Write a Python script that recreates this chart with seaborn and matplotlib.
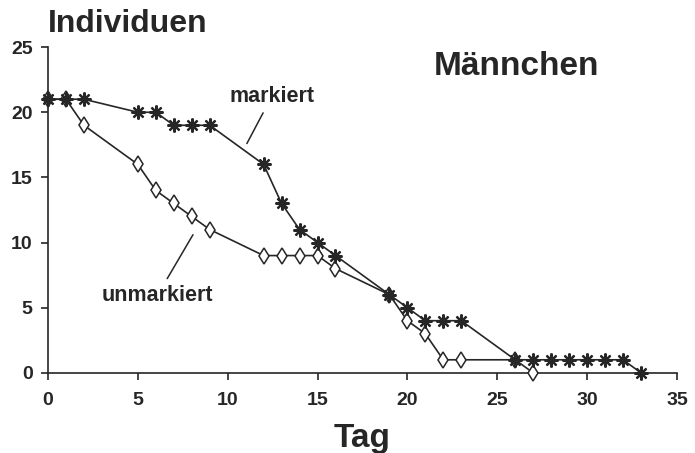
import numpy as np
import pandas as pd
import seaborn as sns
import matplotlib.pyplot as plt

# --- data ---
tag_mark = [0, 1, 2, 5, 6, 7, 8, 9, 12, 13, 14, 15, 16, 19, 20, 21, 22, 23,
            26, 27, 28, 29, 30, 31, 32, 33]
n_mark = [21, 21, 21, 20, 20, 19, 19, 19, 16, 13, 11, 10, 9, 6, 5, 4, 4, 4,
          1, 1, 1, 1, 1, 1, 1, 0]

tag_unmark = [0, 1, 2, 5, 6, 7, 8, 9, 12, 13, 14, 15, 16, 19, 20, 21, 22, 23, 26, 27]
n_unmark = [21, 21, 19, 16, 14, 13, 12, 11, 9, 9, 9, 9, 8, 6, 4, 3, 1, 1, 1, 0]

x_ticks = [0, 5, 10, 15, 20, 25, 30, 35]
y_ticks = [0, 5, 10, 15, 20, 25]

df_mark = pd.DataFrame({"Tag": tag_mark, "Individuen": n_mark})
df_unmark = pd.DataFrame({"Tag": tag_unmark, "Individuen": n_unmark})

INK = "#262626"

sns.set_style("ticks")
plt.rcParams["font.family"] = ["Liberation Sans", "DejaVu Sans"]

fig = plt.figure(figsize=(6.95, 4.53), dpi=100)
ax = fig.add_axes([0.069, 0.177, 0.905, 0.719])

# unmarkiert first so the stars sit on top where they overlap
sns.lineplot(data=df_unmark, x="Tag", y="Individuen", ax=ax, color=INK,
             lw=1.2, marker="d", markersize=8, markerfacecolor="white",
             markeredgecolor=INK, markeredgewidth=1.1, clip_on=False, zorder=3)
sns.lineplot(data=df_mark, x="Tag", y="Individuen", ax=ax, color=INK,
             lw=1.2, marker=(8, 2, 0), markersize=10, markeredgewidth=1.6,
             markeredgecolor=INK, clip_on=False, zorder=4)

ax.set_xlim(0, 35)
ax.set_ylim(0, 25)
ax.set_xticks(x_ticks)
ax.set_yticks(y_ticks)
ax.tick_params(labelsize=14, width=1.2, length=5, direction="out", colors=INK)
ax.tick_params(axis="x", pad=9)
ax.tick_params(axis="y", pad=6)
for lab in ax.get_xticklabels() + ax.get_yticklabels():
    lab.set_fontweight("bold")
for s in ["left", "bottom"]:
    ax.spines[s].set_linewidth(1.2)
    ax.spines[s].set_color(INK)
sns.despine(ax=ax)

ax.set_xlabel("Tag", fontsize=24, fontweight="bold", color=INK)
ax.xaxis.set_label_coords(0.499, -0.155)
ax.set_ylabel("")
fig.text(0.069, 0.947, "Individuen", fontsize=23, fontweight="bold",
         color=INK, va="center", ha="left")
ax.text(26.1, 23.5, "Männchen", fontsize=24, fontweight="bold",
        color=INK, ha="center", va="center")

# labels with pointer lines
ax.annotate("markiert", xy=(11.07, 17.6), xytext=(12.45, 21.2),
            fontsize=15.5, fontweight="bold", color=INK, ha="center", va="center",
            arrowprops=dict(arrowstyle="-", color=INK, lw=1.1,
                            shrinkA=2, shrinkB=0))
ax.annotate("unmarkiert", xy=(8.07, 10.6), xytext=(6.07, 5.9),
            fontsize=15.5, fontweight="bold", color=INK, ha="center", va="center",
            arrowprops=dict(arrowstyle="-", color=INK, lw=1.1,
                            shrinkA=3, shrinkB=0))

fig.savefig("out.png", dpi=100)
